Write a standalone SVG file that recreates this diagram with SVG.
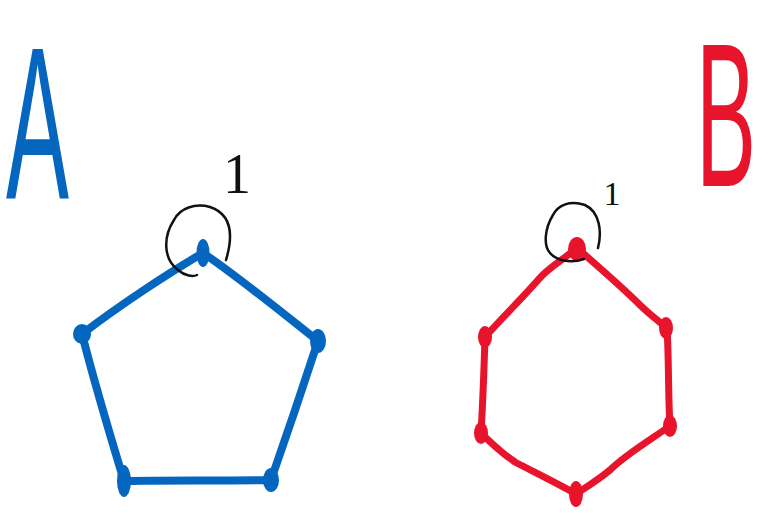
<svg xmlns="http://www.w3.org/2000/svg" width="768" height="513" viewBox="0 0 768 513">
  <style>
    .blue-edge { fill: none; stroke: #0566c0; stroke-width: 8; stroke-linecap: round; stroke-linejoin: round; }
    .red-edge { fill: none; stroke: #e8142b; stroke-width: 7; stroke-linecap: round; stroke-linejoin: round; }
    .blue-dot { fill: #0566c0; }
    .red-dot { fill: #e8142b; }
    .ring { fill: none; stroke: #111; stroke-width: 2.5; stroke-linecap: round; }
    .label { font-family: "Liberation Sans", Arial, sans-serif; }
    .num { font-family: "Liberation Serif", "Times New Roman", serif; fill: #111; text-anchor: middle; }
  </style>
  <rect width="768" height="513" fill="#ffffff"/>

  <!-- titles -->
  <g id="title-a">
    <text class="label" transform="translate(6,199) scale(1.05,2.42)" font-size="90" fill="#0566c0">A</text>
  </g>
  <g id="title-b">
    <text class="label" transform="translate(696,186) scale(1,2.26)" font-size="90" fill="#e8142b">B</text>
  </g>

  <!-- connectors -->
  <g id="edges">
    <!-- pentagon -->
    <path class="blue-edge" d="M203,253 C170,272 120,305 82,334"/>
    <path class="blue-edge" d="M203,253 C240,278 285,315 318,341"/>
    <path class="blue-edge" d="M82,334 C95,385 110,435 124,481"/>
    <path class="blue-edge" d="M318,341 C302,390 285,440 271,480"/>
    <path class="blue-edge" d="M124,481 C170,480 225,481 271,480"/>
    <!-- hexagon -->
    <path class="red-edge" d="M577,248 C560,262 548,268 538,280 C525,295 505,315 485,337"/>
    <path class="red-edge" d="M577,248 C600,268 625,290 640,305 C650,315 660,322 667,328"/>
    <path class="red-edge" d="M667,328 C669,360 668,395 670,426"/>
    <path class="red-edge" d="M670,426 C650,440 625,455 610,470 C598,480 585,488 576,494"/>
    <path class="red-edge" d="M576,494 C555,482 530,470 515,462 C500,452 490,442 481,433"/>
    <path class="red-edge" d="M481,433 C483,400 484,370 485,337"/>
  </g>

  <!-- pentagon nodes -->
  <g id="a1"><ellipse class="blue-dot" cx="203" cy="253" rx="6.5" ry="14"/></g>
  <g id="a2"><ellipse class="blue-dot" cx="82" cy="334" rx="9" ry="10"/></g>
  <g id="a3"><ellipse class="blue-dot" cx="318" cy="341" rx="8" ry="12"/></g>
  <g id="a4"><ellipse class="blue-dot" cx="124" cy="481" rx="7" ry="16"/></g>
  <g id="a5"><ellipse class="blue-dot" cx="271" cy="480" rx="8" ry="12"/></g>

  <!-- hexagon nodes -->
  <g id="b1"><ellipse class="red-dot" cx="577" cy="249" rx="9" ry="12"/></g>
  <g id="b2"><ellipse class="red-dot" cx="666" cy="328" rx="7" ry="11"/></g>
  <g id="b3"><ellipse class="red-dot" cx="670" cy="426" rx="7" ry="11"/></g>
  <g id="b4"><ellipse class="red-dot" cx="576" cy="494" rx="7" ry="13"/></g>
  <g id="b5"><ellipse class="red-dot" cx="481" cy="433" rx="7" ry="11"/></g>
  <g id="b6"><ellipse class="red-dot" cx="485" cy="337" rx="7" ry="11"/></g>

  <!-- start markers -->
  <g id="mark-a">
    <path class="ring" d="M226,260 C232,240 234,215 210,207 C195,203 180,208 174,220 C164,235 162,258 178,270 C185,276 193,277 197,275"/>
    <text class="num" x="237" y="193" font-size="56">1</text>
  </g>
  <g id="mark-b">
    <path class="ring" d="M598,248 C602,232 600,212 585,205 C570,200 558,205 553,215 C545,228 543,245 550,253 C556,260 570,264 584,259"/>
    <text class="num" x="612" y="205" font-size="34">1</text>
  </g>
</svg>
